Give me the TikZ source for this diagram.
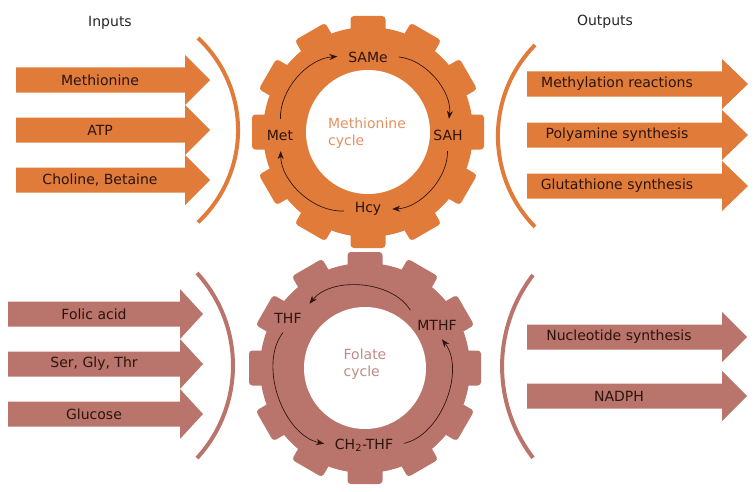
\documentclass[tikz,border=0pt]{standalone}
\usepackage{fontspec}
\setmainfont{DejaVu Sans}
\usetikzlibrary{arrows.meta, calc}

\definecolor{methcol}{RGB}{224,123,57}
\definecolor{folcol}{RGB}{185,116,107}
\definecolor{methtxt}{RGB}{229,146,98}
\definecolor{foltxt}{RGB}{190,140,134}
\definecolor{lbltxt}{RGB}{45,20,14}

\tikzset{
  lbl/.style={font=\fontsize{10.5}{12.6}\selectfont, text=lbltxt, inner sep=2pt},
  head/.style={font=\fontsize{10.5}{12.6}\selectfont, text=black!85},
  cyc/.style={-{Stealth[length=6pt,width=4.5pt]}, line width=0.5pt, lbltxt, shorten <=6pt, shorten >=6pt},
  rim/.style={line width=3pt},
}

\begin{document}
\begin{tikzpicture}[x=0.75pt,y=-0.75pt]
        \useasboundingbox (0,0) rectangle (756,492);

        % gear centres
        \coordinate (G1) at (368,132);
        \coordinate (G2) at (365,368);

        % methionine gear
        \fill[methcol] (G1) circle[radius=105];
        \foreach \a in {0,30,...,330}
            \fill[methcol, rounded corners=2.5pt, shift={(G1)}, rotate=\a] (95,-17.5) rectangle (116,17.5);
        \fill[white] (G1) circle[radius=62];

        % folate gear
        \fill[folcol] (G2) circle[radius=105];
        \foreach \a in {0,30,...,330}
            \fill[folcol, rounded corners=2.5pt, shift={(G2)}, rotate=\a] (95,-17.5) rectangle (116,17.5);
        \fill[white] (G2) circle[radius=61];

        \node[head] (inputs) at (110,23) {Inputs};
        \node[head] (outputs) at (605,22) {Outputs};

        % inputs, top
        \foreach \nm/\yy/\txt in {methio/80/Methionine, atp/130/ATP, cholin/180/{Choline, Betaine}}{
            \fill[methcol] (16,\yy-12.5) -- (185,\yy-12.5) -- (185,\yy-25) -- (210,\yy) -- (185,\yy+25) -- (185,\yy+12.5) -- (16,\yy+12.5) -- cycle;
            \node[lbl] (\nm) at (100,\yy) {\txt};
        }
        % outputs, top
        \foreach \nm/\yy/\txt in {methyl/84/Methylation reactions, polyam/135/Polyamine synthesis, glutat/186/Glutathione synthesis}{
            \fill[methcol] (527,\yy-12.5) -- (722,\yy-12.5) -- (722,\yy-25) -- (748,\yy) -- (722,\yy+25) -- (722,\yy+12.5) -- (527,\yy+12.5) -- cycle;
            \node[lbl] (\nm) at (617,\yy) {\txt};
        }
        % inputs, bottom
        \foreach \nm/\yy/\txt in {folic/314/Folic acid, sgt/364/{Ser, Gly, Thr}, gluc/414/Glucose}{
            \fill[folcol] (8,\yy-12.5) -- (180,\yy-12.5) -- (180,\yy-25) -- (203,\yy) -- (180,\yy+25) -- (180,\yy+12.5) -- (8,\yy+12.5) -- cycle;
            \node[lbl] (\nm) at (94,\yy) {\txt};
        }
        % outputs, bottom
        \foreach \nm/\yy/\txt in {nucl/337/Nucleotide synthesis, nadph/396/NADPH}{
            \fill[folcol] (527,\yy-12.5) -- (722,\yy-12.5) -- (722,\yy-25) -- (747,\yy) -- (722,\yy+25) -- (722,\yy+12.5) -- (527,\yy+12.5) -- cycle;
            \node[lbl] (\nm) at (619,\yy) {\txt};
        }

        % brackets
        \draw[rim, methcol] (198,38) arc[start angle=-47, end angle=47, radius=126];
        \draw[rim, methcol] (535,45) arc[start angle=224.4, end angle=135.6, radius=130];
        \draw[rim, folcol] (197,273) arc[start angle=-42.5, end angle=42.5, radius=137];
        \draw[rim, folcol] (533,275) arc[start angle=217.4, end angle=142.6, radius=150.5];

        % methionine cycle
        \node[lbl] (same) at (368,57) {SAMe};
        \node[lbl] (sah) at (448,135) {SAH};
        \node[lbl] (hcy) at (368,209) {Hcy};
        \node[lbl] (met) at (280,135) {Met};
        \node[lbl, text=methtxt, align=left] (methcyc) at (367,133) {Methionine\\cycle};

        \draw[cyc] (met) to[bend left=44] (same);
        \draw[cyc] (same) to[bend left=46] (sah);
        \draw[cyc] (sah) to[bend left=44] (hcy);
        \draw[cyc] (hcy) to[bend left=46] (met);

        % folate cycle
        \node[lbl] (thf) at (288,318) {THF};
        \node[lbl] (mthf) at (437,325) {MTHF};
        \node[lbl] (ch2thf) at (364,445) {CH\textsubscript{2}-THF};
        \node[lbl, text=foltxt, align=left] (folcyc) at (365,364) {Folate\\cycle};

        \draw[cyc] (mthf.north west) to[bend right=55] (thf.north east);
        \draw[cyc] (thf.south) to[bend right=58] (ch2thf);
        \draw[cyc] (ch2thf.east) to[bend right=58] (mthf.south);
    \end{tikzpicture}
\end{document}
